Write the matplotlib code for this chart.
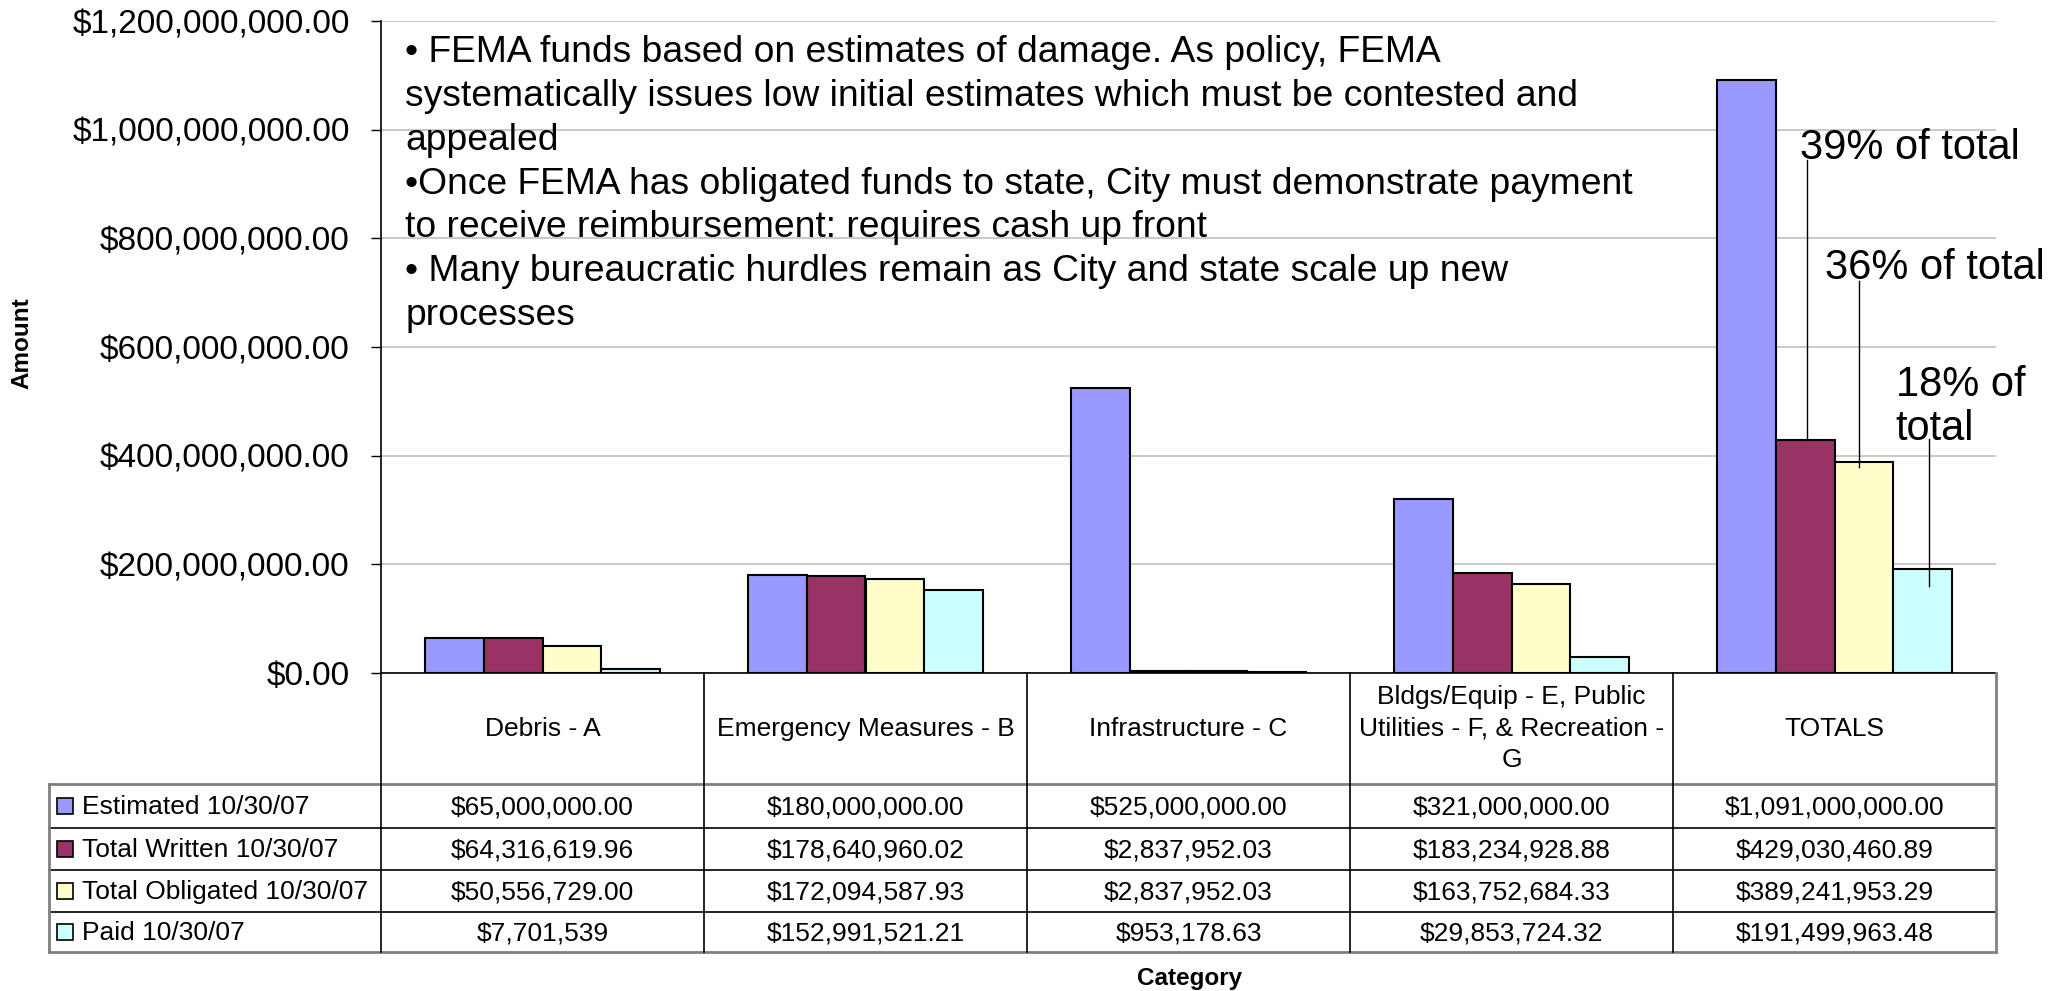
import matplotlib
matplotlib.use('Agg')
import matplotlib.pyplot as plt
from matplotlib.patches import Rectangle
import numpy as np

plt.rcParams['font.family'] = ['Liberation Sans', 'DejaVu Sans']

# data
categories = ['Debris - A', 'Emergency Measures - B', 'Infrastructure - C',
              'Bldgs/Equip - E, Public\nUtilities - F, & Recreation -\nG', 'TOTALS']
series = ['Estimated 10/30/07', 'Total Written 10/30/07',
          'Total Obligated 10/30/07', 'Paid 10/30/07']
estimated = [65000000.00, 180000000.00, 525000000.00, 321000000.00, 1091000000.00]
written = [64316619.96, 178640960.02, 2837952.03, 183234928.88, 429030460.89]
obligated = [50556729.00, 172094587.93, 2837952.03, 163752684.33, 389241953.29]
paid = [7701539, 152991521.21, 953178.63, 29853724.32, 191499963.48]
colors = ['#9999FF', '#993366', '#FFFFCC', '#CCFFFF']
yticks = [0, 200e6, 400e6, 600e6, 800e6, 1000e6, 1200e6]

notes = ('\u2022 FEMA funds based on estimates of damage. As policy, FEMA\n'
         'systematically issues low initial estimates which must be contested and\n'
         'appealed\n'
         '\u2022Once FEMA has obligated funds to state, City must demonstrate payment\n'
         'to receive reimbursement: requires cash up front\n'
         '\u2022 Many bureaucratic hurdles remain as City and state scale up new\n'
         'processes')

W, H = 2055, 991
fig = plt.figure(figsize=(W / 100, H / 100), dpi=100, facecolor='white')

# main chart area (pixel layout from the reference)
x0, x1, ytop, ybot = 381, 1996, 21, 673
ax = fig.add_axes([x0 / W, 1 - ybot / H, (x1 - x0) / W, (ybot - ytop) / H])
values = [estimated, written, obligated, paid]
x = np.arange(len(categories))
w = 0.182
for k, (vals, c) in enumerate(zip(values, colors)):
    ax.bar(x + (k - 1.5) * w, vals, w, color=c, edgecolor='black', lw=1.5, zorder=3)

ax.set_xlim(-0.5, 4.5)
ax.set_ylim(0, 1200e6)
ax.set_yticks(yticks)
ax.set_yticklabels(['${:,.2f}'.format(v) for v in yticks], fontsize=24)
ax.tick_params(axis='y', length=7.5, width=1, pad=15, color='black')
ax.set_xticks([])
ax.grid(axis='y', color='#c0c0c0', lw=1.2, zorder=0)
for s in ['top', 'right']:
    ax.spines[s].set_visible(False)
ax.spines['left'].set_color('black')
ax.spines['bottom'].set_color('black')
ax.spines['left'].set_linewidth(1.2)
ax.spines['bottom'].set_linewidth(1.2)

ax.text(0.015, 0.75, notes, transform=ax.transAxes, fontsize=26.8,
        ha='left', va='center', linespacing=1.33, zorder=5)

# percent-of-total callouts
ax.text(3.893, 946e6, '39% of total', fontsize=30, ha='left', va='baseline')
ax.text(3.971, 725e6, '36% of total', fontsize=30, ha='left', va='baseline')
ax.text(4.19, 429e6, '18% of\ntotal', fontsize=30, ha='left', va='baseline', linespacing=1.12)
ax.plot([3.915, 3.915], [944e6, written[4]], color='black', lw=1, zorder=4)
ax.plot([4.076, 4.076], [721e6, 379e6], color='black', lw=1, zorder=4)
ax.plot([4.293, 4.293], [431e6, 160e6], color='black', lw=1, zorder=4)

# data table under the chart
tb = 952
tax = fig.add_axes([x0 / W, 1 - tb / H, (x1 - x0) / W, (tb - ybot) / H])
tax.set_xlim(-0.5, 4.5)
tax.set_ylim(tb, ybot)
tax.axis('off')
xl = -0.5 - (x0 - 49) / 323
rows = [784, 828, 870, 912, 952]
grey = '#808080'
tax.plot([xl, 4.5], [rows[0], rows[0]], color=grey, lw=2, clip_on=False)
tax.plot([xl, 4.5], [rows[-1], rows[-1]], color=grey, lw=2, clip_on=False)
for r in rows[1:-1]:
    tax.plot([xl, 4.5], [r, r], color='black', lw=1.2, clip_on=False)
tax.plot([xl, xl], [rows[0], rows[-1]], color=grey, lw=2, clip_on=False)
for c in np.arange(-0.5, 4.0, 1.0):
    tax.plot([c, c], [ybot, tb], color='black', lw=1.2, clip_on=False)
tax.plot([4.5, 4.5], [ybot, tb], color=grey, lw=2, clip_on=False)

for i, name in enumerate(categories):
    tax.text(i, (ybot + rows[0]) / 2, name, fontsize=19, ha='center', va='center',
             linespacing=1.4)

special = {(3, 0): '${:,.0f}'}
for k, (name, vals, c) in enumerate(zip(series, values, colors)):
    yc = (rows[k] + rows[k + 1]) / 2
    tax.add_patch(Rectangle((-0.5 - (x0 - 57) / 323, yc - 8), 16 / 323, 16,
                            facecolor=c, edgecolor='black', lw=1.2, clip_on=False))
    tax.text(-0.5 - (x0 - 82) / 323, yc + 1, name, fontsize=19, ha='left', va='center')
    for i, v in enumerate(vals):
        fmt = special.get((k, i), '${:,.2f}')
        tax.text(i, yc + 1, fmt.format(v), fontsize=19, ha='center', va='center')

fig.text(22 / W, 1 - 343 / H, 'Amount', rotation=90, fontsize=17.5,
         fontweight='bold', ha='center', va='center')
fig.text(1190 / W, 1 - 978 / H, 'Category', fontsize=17.5,
         fontweight='bold', ha='center', va='center')

fig.savefig('out.png', dpi=100, facecolor='white')
